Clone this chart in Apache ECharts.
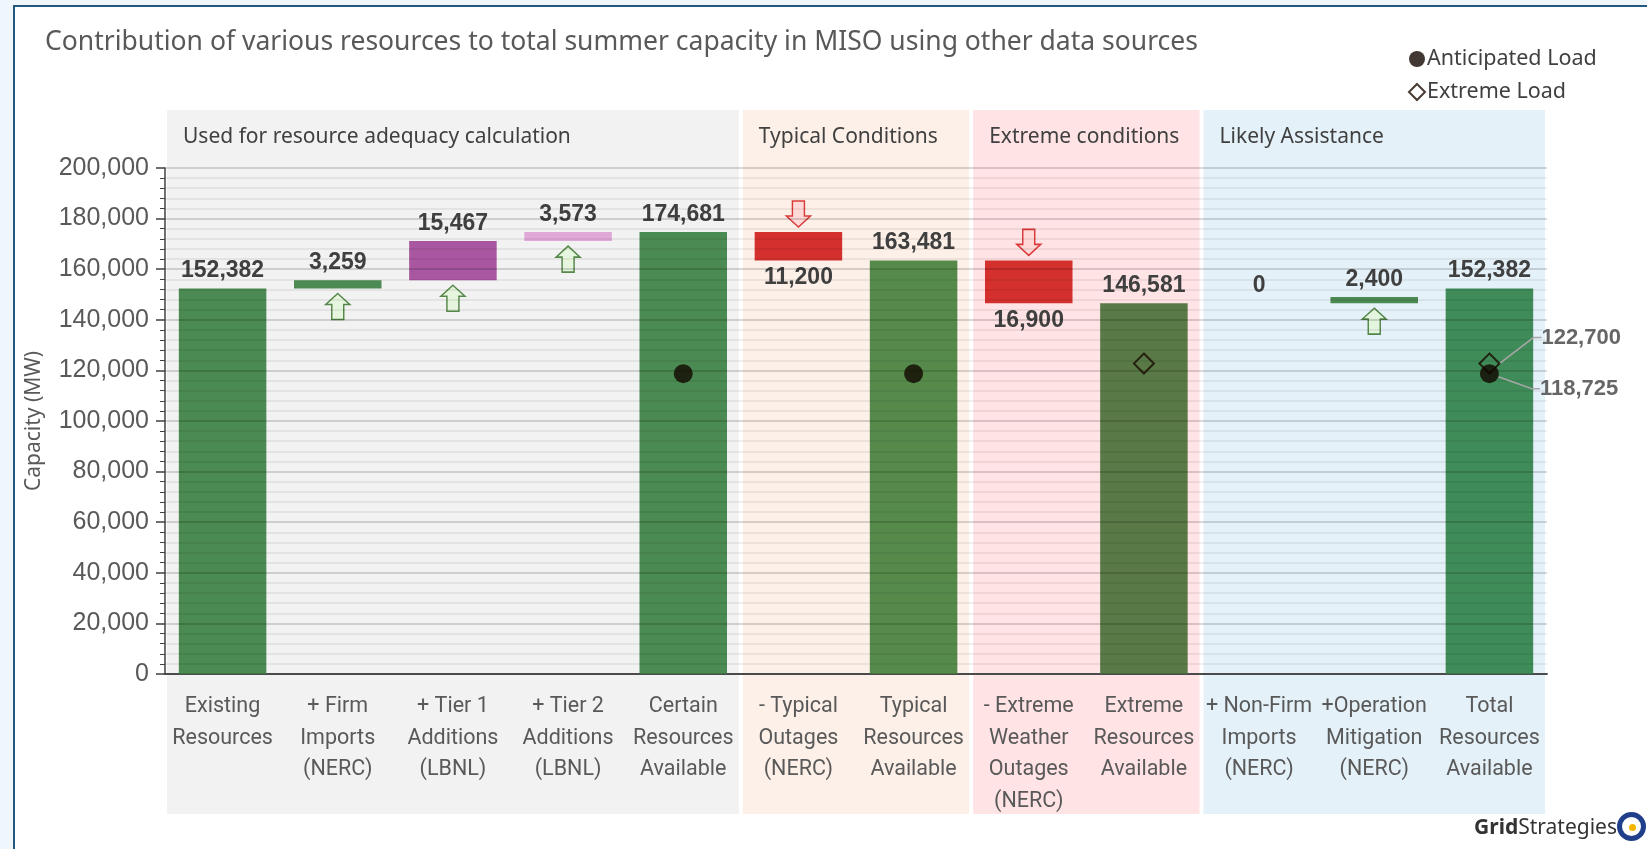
<!DOCTYPE html>
<html>
<head>
<meta charset="utf-8">
<title>MISO summer capacity</title>
<script src="https://cdn.jsdelivr.net/npm/echarts@6/dist/echarts.min.js"></script>
<style>
  html, body { margin: 0; padding: 0; background: #f0f7fc; }
  #frame {
    position: absolute; left: 13px; top: 5px; right: 0; bottom: 0;
    background: #fff; border-left: 2px solid #24587f; border-top: 2px solid #24587f;
  }
  #main { position: absolute; left: 0; top: 0; width: 1647px; height: 849px; }
</style>
</head>
<body>
<div id="frame"></div>
<div id="main"></div>
<script>
// data
var categories = [
  'Existing\nResources', '+ Firm\nImports\n(NERC)', '+ Tier 1\nAdditions\n(LBNL)',
  '+ Tier 2\nAdditions\n(LBNL)', 'Certain\nResources\nAvailable', '- Typical\nOutages\n(NERC)',
  'Typical\nResources\nAvailable', '- Extreme\nWeather\nOutages\n(NERC)', 'Extreme\nResources\nAvailable',
  '+ Non-Firm\nImports\n(NERC)', '+Operation\nMitigation\n(NERC)', 'Total\nResources\nAvailable'
];
var stepValues = [152382, 3259, 15467, 3573, 174681, -11200, 163481, -16900, 146581, 0, 2400, 152382];
var stepKinds = ['total', 'up', 'up', 'up', 'total', 'down', 'total', 'down', 'total', 'up', 'up', 'total'];
var anticipatedLoad = [null, null, null, null, 118725, null, 118725, null, null, null, null, 118725];
var extremeLoad = [null, null, null, null, null, null, null, null, 122700, null, null, 122700];
var bandNames = ['Used for resource adequacy calculation', 'Typical Conditions', 'Extreme conditions', 'Likely Assistance'];
var bandFirst = [0, 5, 7, 9];
var bandLast = [4, 6, 8, 11];

var barColors = ['#4b8a52', '#4b8a52', '#a957a0', '#e0a8d6', '#4b8a52', '#d3302e',
                 '#568a4b', '#d3302e', '#597a47', '#4b8a52', '#4b8a52', '#3f8c59'];
var bandColors = ['#f2f2f2', '#fdf0e8', '#ffe3e5', '#e5f1f8'];

// waterfall layout: invisible base + visible step
var bases = [], heights = [], level = 0;
for (var i = 0; i < stepValues.length; i++) {
  var v = stepValues[i];
  if (stepKinds[i] == 'total') { bases.push(0); heights.push(v); level = v; }
  else if (stepKinds[i] == 'up') { bases.push(level); heights.push(v); level += v; }
  else { level += v; bases.push(level); heights.push(-v); }
}

var upArrows = [], downArrows = [];
for (var i = 0; i < stepValues.length; i++) {
  if (stepKinds[i] == 'up' && stepValues[i] != 0) upArrows.push([i, bases[i]]);
  if (stepKinds[i] == 'down') downArrows.push([i, bases[i] + heights[i]]);
}

var fmt = function (n) { return Math.abs(n).toLocaleString('en-US'); };

var stepData = heights.map(function (h, i) {
  return {
    value: h,
    itemStyle: { color: barColors[i] },
    label: { position: stepKinds[i] == 'down' ? 'bottom' : 'top', formatter: fmt(stepValues[i]) }
  };
});

var bandData = bandNames.map(function (n, i) { return [bandFirst[i], bandLast[i], i]; });

// only the last (Total) point of each load series gets a callout label
var loadPoints = function (arr) {
  return arr.map(function (v, i) {
    return i == arr.length - 1 ? { value: v, label: { show: true, formatter: fmt(v) } } : v;
  });
};

var myChart = echarts.init(document.getElementById('main'));

var option = {
  animation: false,
  textStyle: { fontFamily: 'Liberation Sans, Arial, sans-serif' },
  title: {
    text: 'Contribution of various resources to total summer capacity in MISO using other data sources',
    left: 40, top: 24,
    textStyle: { fontFamily: 'Noto Sans', fontSize: 26.5, fontWeight: 'normal', color: '#595959' }
  },
  legend: {
    orient: 'vertical', left: 1403, top: 43, itemGap: 11, itemWidth: 16, itemHeight: 16,
    data: ['Anticipated Load', 'Extreme Load'],
    textStyle: { fontFamily: 'Noto Sans', fontSize: 21.5, color: '#404040', padding: [0, 0, 0, -3] }
  },
  grid: [
    { left: 165, right: 100, top: 168, bottom: 175 },
    { left: 165, right: 100, top: 110, bottom: 35 }
  ],
  xAxis: [
    {
      type: 'category', data: categories, gridIndex: 0,
      axisLine: { lineStyle: { color: '#595959', width: 2 } },
      axisTick: { show: false },
      axisLabel: {
        interval: 0, margin: 17, lineHeight: 31.5, fontSize: 21.5, color: '#595959',
        fontFamily: 'Roboto, sans-serif'
      }
    },
    { type: 'category', data: categories, gridIndex: 1, show: false }
  ],
  yAxis: [
    {
      type: 'value', gridIndex: 0, min: 0, max: 200000, interval: 20000, z: 5,
      name: 'Capacity (MW)', nameLocation: 'middle', nameGap: 120,
      nameTextStyle: { fontFamily: 'Noto Sans', fontSize: 21, color: '#595959' },
      axisLine: { show: true, lineStyle: { color: '#404040', width: 1.5 } },
      axisTick: { show: true, length: 9, lineStyle: { color: '#404040', width: 1.5 } },
      minorTick: { show: true, splitNumber: 5, length: 5, lineStyle: { color: '#404040' } },
      axisLabel: {
        margin: 16, fontSize: 25, color: '#595959',
        formatter: function (v) { return v.toLocaleString('en-US'); }
      },
      splitLine: { lineStyle: { color: 'rgba(0,0,0,0.15)', width: 2 } },
      minorSplitLine: { show: true, lineStyle: { color: 'rgba(0,0,0,0.06)', width: 2 } }
    },
    { type: 'value', gridIndex: 1, min: 0, max: 1, show: false }
  ],
  series: [
    {
      type: 'custom', xAxisIndex: 1, yAxisIndex: 1, z: -1, silent: true,
      data: bandData,
      renderItem: function (params, api) {
        var bw = api.size([1, 0])[0];
        var x0 = api.coord([api.value(0), 1])[0] - bw / 2 + 2;
        var x1 = api.coord([api.value(1), 1])[0] + bw / 2 - 2;
        var top = api.coord([0, 1])[1];
        var bottom = api.coord([0, 0])[1];
        var k = api.value(2);
        return {
          type: 'group',
          children: [
            { type: 'rect', shape: { x: x0, y: top, width: x1 - x0, height: bottom - top },
              style: { fill: bandColors[k] } },
            { type: 'text', x: x0 + 16, y: top + 27,
              style: { text: bandNames[k], fill: '#404040', font: '21px "Noto Sans"', verticalAlign: 'middle' } }
          ]
        };
      }
    },
    {
      name: 'base', type: 'bar', stack: 'w', data: bases, barCategoryGap: '24%',
      itemStyle: { color: 'rgba(0,0,0,0)' }, silent: true
    },
    {
      name: 'step', type: 'bar', stack: 'w', data: stepData,
      label: { show: true, distance: 6, fontSize: 23, fontWeight: 'bold', color: '#404040' }
    },
    {
      name: 'up', type: 'scatter', data: upArrows, z: 4,
      symbol: 'path://M12,0 L24,11 L18,11 L18,26 L6,26 L6,11 L0,11 Z',
      symbolSize: [24, 26], symbolOffset: [0, 18],
      itemStyle: { color: '#e2f5d8', borderColor: '#2f6b22', borderWidth: 1.5 }
    },
    {
      name: 'down', type: 'scatter', data: downArrows, z: 4,
      symbol: 'path://M6,0 L18,0 L18,15 L24,15 L12,26 L0,15 L6,15 Z',
      symbolSize: [24, 26], symbolOffset: [0, -18],
      itemStyle: { color: '#ffd4d4', borderColor: '#d01010', borderWidth: 1.5 }
    },
    {
      name: 'Extreme Load', type: 'scatter', z: 6, symbol: 'diamond', symbolSize: 20,
      data: loadPoints(extremeLoad),
      itemStyle: { color: 'rgba(0,0,0,0)', borderColor: '#1a0a00', borderWidth: 2 },
      label: { position: 'right', fontSize: 22, fontWeight: 'bold', color: '#404040' },
      labelLayout: { dx: 36, dy: -26 },
      labelLine: { show: true, length2: 8, lineStyle: { color: '#a6a6a6', width: 1.5 } }
    },
    {
      name: 'Anticipated Load', type: 'scatter', z: 6, symbol: 'circle', symbolSize: 19,
      data: loadPoints(anticipatedLoad),
      itemStyle: { color: '#120600' },
      label: { position: 'right', fontSize: 22, fontWeight: 'bold', color: '#404040' },
      labelLayout: { dx: 36, dy: 15 },
      labelLine: { show: true, length2: 8, lineStyle: { color: '#a6a6a6', width: 1.5 } }
    }
  ],
  graphic: [
    {
      type: 'text', right: 30, bottom: 10,
      style: {
        text: '{b|Grid}{n|Strategies}',
        rich: {
          b: { fontFamily: 'Noto Sans', fontSize: 21, fontWeight: 'bold', fill: '#333' },
          n: { fontFamily: 'Noto Sans', fontSize: 21, fill: '#333' }
        }
      }
    },
    { type: 'circle', right: 1, bottom: 8, shape: { r: 12 },
      style: { fill: 'none', stroke: '#1f3f8a', lineWidth: 5 } },
    { type: 'circle', right: 11, bottom: 18, shape: { r: 3.5 }, style: { fill: '#f5b400' } }
  ]
};

myChart.setOption(option);
</script>
</body>
</html>
